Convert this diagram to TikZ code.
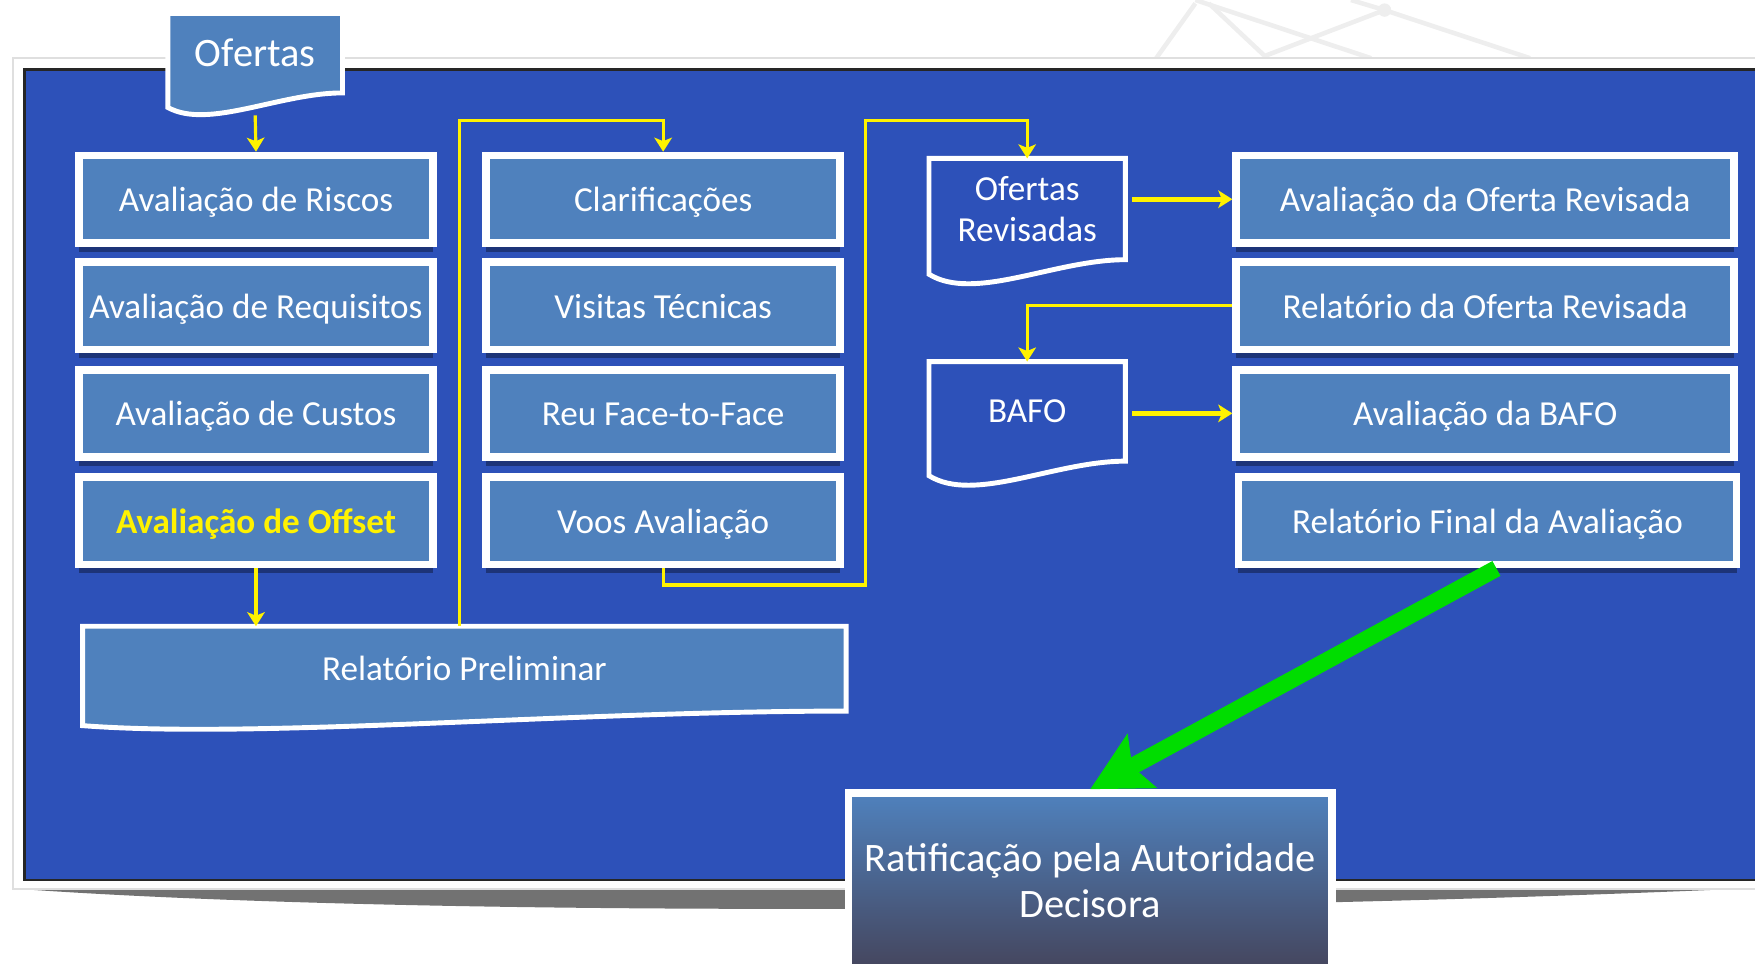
\documentclass[tikz,border=0pt]{standalone}
\usepackage{fontspec}
\setmainfont{Carlito}
\usetikzlibrary{arrows.meta,calc,shadows}

\definecolor{panelblue}{HTML}{2D51B9}
\definecolor{boxblue}{HTML}{4F81BD}
\definecolor{ratdark}{HTML}{45465E}
\definecolor{arrowgreen}{HTML}{00DD00}
\definecolor{framegray}{HTML}{727272}
\definecolor{decorgray}{HTML}{EEEEEE}

\newlength\dpx
\setlength\dpx{0.11193mm}

\newcommand\docpath[4]{%
  \draw[docline, fill=#4] (#1) -| (#2)
    .. controls ($(#2)!0.36!(#1|-#2)$) and ($(#1|-#2)!0.23!(#2)+(0,13+#3)$)
    .. ($(#1|-#2)+(0,13)$) -- cycle;}

\begin{document}
\begin{tikzpicture}[x=0.11193mm, y=-0.11193mm,
  box/.style={draw=white, line width=2.2pt, fill=boxblue, text=white,
    font=\fontsize{10}{12}\selectfont, inner sep=0pt,
    text height=8.5pt, text depth=1.5pt,
    minimum width=316.5*\dpx, minimum height=78*\dpx,
    drop shadow={shadow xshift=0pt, shadow yshift=-2.5pt, fill=black, opacity=.35}},
  rbox/.style={box, minimum width=445*\dpx},
  docline/.style={draw=white, line width=1.4pt},
  doctext/.style={inner sep=0pt, outer sep=0pt, text=white, align=center,
    font=\fontsize{10}{11.5}\selectfont},
  ratbox/.style={draw=white, line width=2.2pt, top color=boxblue, bottom color=ratdark,
    text=white, align=center, font=\fontsize{11.5}{13}\selectfont,
    minimum width=431.7*\dpx, minimum height=155.8*\dpx},
  ylw/.style={draw=yellow, line width=0.9pt, -{Stealth[length=4pt, width=5pt, inset=1pt]}},
  ylwthick/.style={ylw, line width=1.3pt},
  grn/.style={draw=arrowgreen, line width=4.8pt, -{Stealth[length=16.6pt, width=17pt, inset=3pt]}},
  decor/.style={draw=decorgray, line width=1.3pt}]

\useasboundingbox (0,0) rectangle (1568,869.3);
\clip (0,0) rectangle (1568,869.3);

\draw[decor] (1033,52) -- (1068,3);
\draw[decor] (1068,0) -- (1225,52);
\draw[decor] (1080,3) -- (1130,50) -- (1237,9) -- (1367,52);
\draw[decor] (1207,0) -- (1237,9);
\fill[decorgray] (1237,9) circle[radius=6];

\fill[framegray] (14,794) .. controls (350,818) and (1000,818) .. (1555,794) -- cycle;
\draw[draw=gray!25, fill=white, line width=0.6pt] (12,52) rectangle (1600,794);
\fill[panelblue] (22,62) rectangle (1600,786);
\draw[black!85, line width=0.7pt] (1600,62) -- (22,62) -- (22,786) -- (1600,786);

\coordinate (ofertasA) at (150,12);
\coordinate (ofertasB) at (306,83);
\coordinate (orevA) at (830,141.5);
\coordinate (orevB) at (1005.5,232);
\coordinate (bafoA) at (830,323);
\coordinate (bafoB) at (1005.5,412);
\coordinate (prelimA) at (73.8,559.5);
\coordinate (prelimB) at (756,635.3);

\docpath{ofertasA}{ofertasB}{20}{boxblue}
\docpath{orevA}{orevB}{25}{none}
\docpath{bafoA}{bafoB}{25}{none}
\docpath{prelimA}{prelimB}{12}{boxblue}

\node[doctext, font=\fontsize{11.5}{13}\selectfont, minimum width=156*\dpx, minimum height=71*\dpx]
  (ofertas) at ($(ofertasA)!0.5!(ofertasB)$) {Ofertas};
\node[doctext, minimum width=175.5*\dpx, minimum height=90.5*\dpx]
  (orev) at ($(orevA)!0.5!(orevB)$) {Ofertas\\Revisadas};
\node[doctext, minimum width=175.5*\dpx, minimum height=89*\dpx]
  (bafo) at ($(bafoA)!0.5!(bafoB)$) {BAFO};
\node[doctext, minimum width=682.2*\dpx, minimum height=75.8*\dpx]
  (prelim) at ($(prelimA)!0.5!(prelimB)$) {Relatório Preliminar};

\node[box] (riscos) at (228.7,178) {Avaliação de Riscos};
\node[box] (requisitos) at (228.7,273.3) {Avaliação de Requisitos};
\node[box] (custos) at (228.7,369.3) {Avaliação de Custos};
\node[box, text=yellow, font=\fontsize{10}{12}\selectfont\bfseries] (offset) at (228.7,465.4) {Avaliação de Offset};

\node[box] (clarif) at (592.5,178) {Clarificações};
\node[box] (visitas) at (592.5,273.3) {Visitas Técnicas};
\node[box] (reu) at (592.5,369.3) {Reu Face-to-Face};
\node[box] (voos) at (592.5,465.4) {Voos Avaliação};

\node[rbox] (aorev) at (1327,178) {Avaliação da Oferta Revisada};
\node[rbox] (rorev) at (1327,273.3) {Relatório da Oferta Revisada};
\node[rbox] (abafo) at (1327,369.3) {Avaliação da BAFO};
\node[rbox] (rfinal) at (1329,465.4) {Relatório Final da Avaliação};

\node[ratbox] (ratif) at (974,786.5) {Ratificação pela Autoridade\\Decisora};

\coordinate (gapL) at (410.3,107.8);
\coordinate (gapM) at (773,107.8);
\coordinate (loopM) at (773,522.6);

\draw[ylw] ($(ofertas.south)+(0,20)$) -- (riscos.north);
\draw[ylw] (offset.south) -- (offset.south |- prelim.north);
\draw[ylw] (prelim.north -| gapL) -- (gapL) -| (clarif.north);
\draw[ylw] (voos.south) |- (loopM) -- (gapM) -| (orev.north);
\draw[ylwthick, shorten <=6*\dpx] (orev.east |- aorev.west) -- (aorev.west);
\draw[ylw] (rorev.west) -| (bafo.north);
\draw[ylwthick, shorten <=6*\dpx] (bafo.east |- abafo.west) -- (abafo.west);
\draw[grn] ($(rfinal.south)+(8,0)$) -- (ratif.north);
\end{tikzpicture}
\end{document}
